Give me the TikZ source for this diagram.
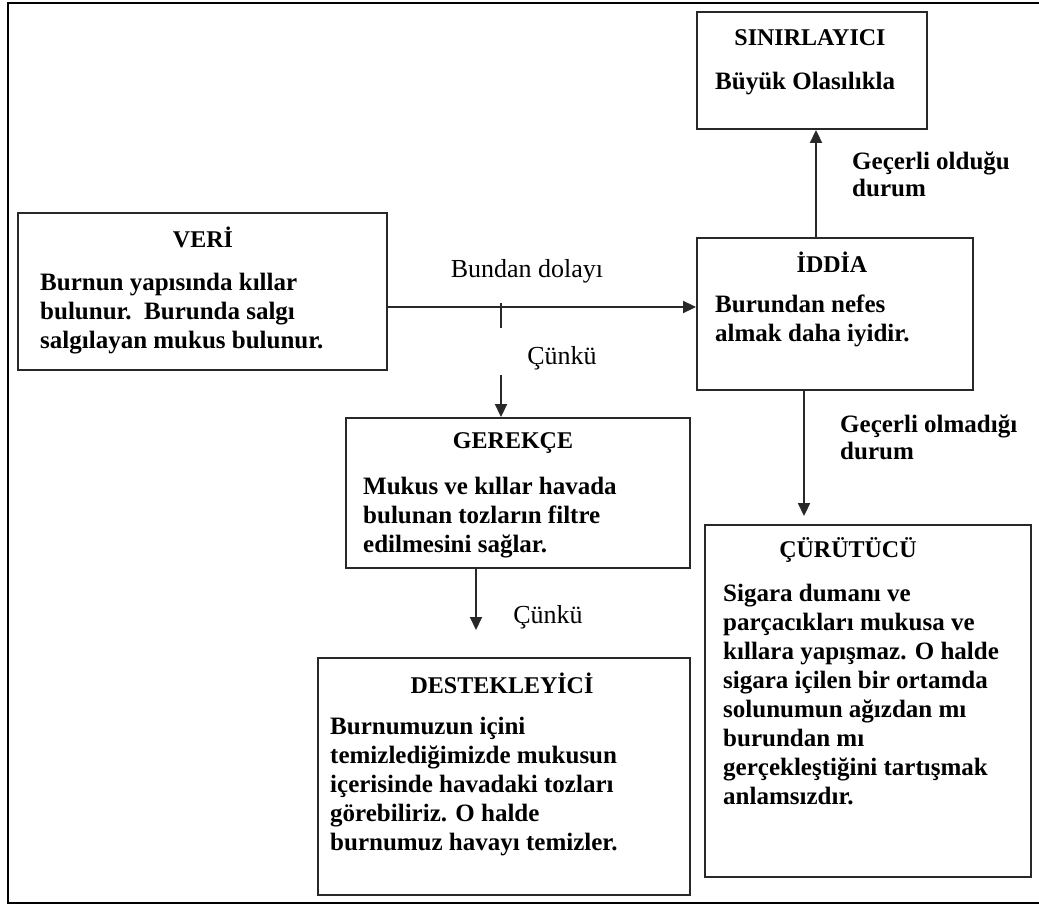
\documentclass[tikz,border=0pt]{standalone}
\usepackage{fontspec}
\setmainfont{Liberation Serif}
\usetikzlibrary{arrows.meta}
\definecolor{tmline}{RGB}{40,40,40}
% box from corner (x1,y1) to corner (x2,y2), in pixels, y downwards
\def\tmBox#1#2#3#4#5{%
  \pgfmathsetmacro{\tmW}{#4-#2}%
  \pgfmathsetmacro{\tmH}{#5-#3}%
  \node[tmbox, minimum width=\tmW pt, minimum height=\tmH pt]
    (#1) at ({(#2+#4)/2},{(#3+#5)/2}) {};}

\begin{document}
\begin{tikzpicture}[
    x=1pt, y=-1pt,
    tmbox/.style   = {draw=tmline, line width=1.9pt, inner sep=0pt},
    tmframe/.style = {black, line width=2.4pt},
    tmarr/.style   = {-{Triangle[length=13pt,width=12pt]}, line width=1.9pt, tmline},
    tmtick/.style  = {line width=1.9pt, tmline},
    tmtitle/.style = {font=\fontsize{24}{28}\selectfont\bfseries, inner sep=0pt},
    tmbody/.style  = {font=\fontsize{25}{29}\selectfont\bfseries, align=left,
                      anchor=north west, inner sep=0pt},
    tmlbl/.style   = {font=\fontsize{26}{30}\selectfont, inner sep=0pt},
    tmblbl/.style  = {font=\fontsize{25}{27}\selectfont\bfseries, align=left,
                      anchor=north west, inner sep=0pt}]

  \useasboundingbox (0,0) rectangle (1039,907);
  \draw[tmframe] (8,3) rectangle (1060,903);

  %% ---- boxes -------------------------------------------------------
  \tmBox{veri}{18}{213}{387}{370}
  \tmBox{iddia}{697}{238}{973}{390}
  \tmBox{sinir}{697}{12}{927}{129}
  \tmBox{gerekce}{346}{418}{690}{568}
  \tmBox{destek}{318}{658}{690}{895}
  \tmBox{curut}{705}{525}{1031}{877}

  %% ---- texts -------------------------------------------------------
  \node[tmtitle] (veriT) at (203,237) {VERİ};
  \node[tmbody] (veriB) at (40,273) {Burnun yapısında kıllar\\
    bulunur.\ \ Burunda salgı\\ salgılayan mukus bulunur.};

  \node[tmtitle] (iddiaT) at (832,262) {İDDİA};
  \node[tmbody] (iddiaB) at (715,295) {Burundan nefes\\ almak daha iyidir.};

  \node[tmtitle] (sinirT) at (810,38) {SINIRLAYICI};
  \node[tmbody] (sinirB) at (715,72) {Büyük Olasılıkla};

  \node[tmtitle] (gerekceT) at (513,443) {GEREKÇE};
  \node[tmbody] (gerekceB) at (363,477) {Mukus ve kıllar havada\\
    bulunan tozların filtre\\ edilmesini sağlar.};

  \node[tmtitle] (destekT) at (502,683) {DESTEKLEYİCİ};
  \node[tmbody] (destekB) at (330,717) {Burnumuzun içini\\
    temizlediğimizde mukusun\\ içerisinde havadaki tozları\\
    görebiliriz. O halde\\ burnumuz havayı temizler.};

  \node[tmtitle] (curutT) at (848,550) {ÇÜRÜTÜCÜ};
  \node[tmbody] (curutB) at (723,584) {Sigara dumanı ve\\
    parçacıkları mukusa ve\\ kıllara yapışmaz. O halde\\
    sigara içilen bir ortamda\\ solunumun ağızdan mı\\ burundan mı\\
    gerçekleştiğini tartışmak\\ anlamsızdır.};

  %% ---- connectors --------------------------------------------------
  \coordinate (tickT) at (501,303);
  \coordinate (tickB) at (501,328);
  \coordinate (cunkuS) at (501,375);
  \coordinate (destekE) at (476,630);

  \draw[tmarr] (veri.east |- 0,307) -- (iddia.west |- 0,307);
  \draw[tmtick] (tickT) -- (tickB);
  \draw[tmarr] (cunkuS) -- (cunkuS |- gerekce.north);
  \draw[tmarr] (gerekce.south -| destekE) -- (destekE);
  \draw[tmarr] (iddia.north -| 816,0) -- (sinir.south -| 816,0);
  \draw[tmarr, shorten >=8pt] (iddia.south -| 804,0) -- (curut.north -| 804,0);

  \node[tmlbl] (bundanL) at (527,271) {Bundan dolayı};
  \node[tmlbl] (cunkuL1) at (562,358) {Çünkü};
  \node[tmlbl] (cunkuL2) at (548,617) {Çünkü};
  \node[tmblbl] (gecerliL) at (852,152) {Geçerli olduğu\\ durum};
  \node[tmblbl] (gecmezL) at (840,415) {Geçerli olmadığı\\ durum};
\end{tikzpicture}
\end{document}
